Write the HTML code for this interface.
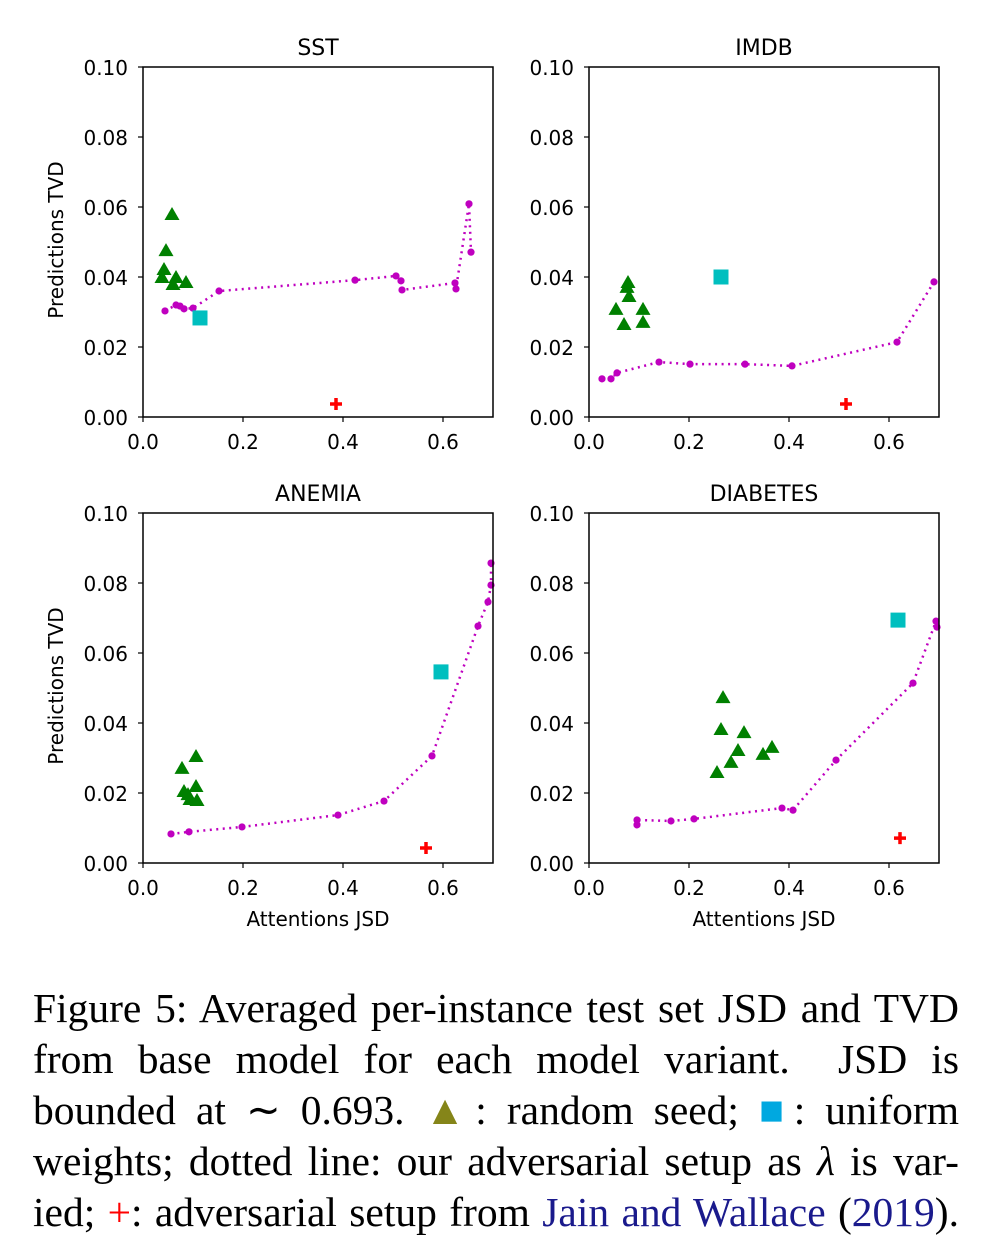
<!DOCTYPE html>
<html><head><meta charset="utf-8"><style>
html,body{margin:0;padding:0;background:#fff;}
body{width:1000px;height:1246px;position:relative;overflow:hidden;}
svg{position:absolute;left:0;top:0;}
.cap{position:absolute;left:33px;width:926px;font-family:"Liberation Serif",serif;font-size:41.5px;line-height:51px;white-space:nowrap;text-align:justify;text-align-last:justify;color:#000;}
.cap span.l{display:block;height:51px;}
</style></head><body>
<svg id="fig" width="1000" height="960"></svg>
<div class="cap" style="top:983px">
<span class="l">Figure 5: Averaged per-instance test set JSD and TVD</span>
<span class="l">from base model for each model variant. &nbsp;JSD is</span>
<span class="l">bounded at ∼ 0.693. <span style="color:#858519">▲</span>: random seed; <span style="color:#00a8e0">■</span>: uniform</span>
<span class="l">weights; dotted line: our adversarial setup as <i>λ</i> is var-</span>
<span class="l">ied; <span style="color:#f00">+</span>: adversarial setup from <span style="color:#1a1a8c">Jain and Wallace</span> (<span style="color:#1a1a8c">2019</span>).</span>
</div>
<script>
const titles=["SST","IMDB","ANEMIA","DIABETES"];
const lineX=[
[0.044,0.066,0.074,0.082,0.100,0.152,0.424,0.506,0.516,0.518,0.624,0.626,0.652,0.656],
[0.026,0.044,0.056,0.14,0.202,0.312,0.406,0.616,0.69],
[0.056,0.092,0.198,0.39,0.482,0.578,0.67,0.69,0.696,0.696],
[0.096,0.096,0.164,0.21,0.386,0.408,0.494,0.648,0.694,0.696]];
const lineY=[
[0.0303,0.032,0.0317,0.0309,0.0311,0.036,0.0391,0.0403,0.0389,0.0363,0.0383,0.0366,0.0609,0.0471],
[0.0109,0.0109,0.0126,0.0157,0.0151,0.0151,0.0146,0.0214,0.0386],
[0.0083,0.0089,0.0103,0.0137,0.0177,0.0306,0.0677,0.0746,0.0794,0.0857],
[0.0109,0.0123,0.012,0.0126,0.0157,0.0151,0.0294,0.0514,0.0691,0.0674]];
const triX=[
[0.058,0.046,0.042,0.038,0.066,0.086,0.06],
[0.078,0.076,0.08,0.054,0.108,0.07,0.108],
[0.106,0.078,0.082,0.106,0.094,0.108,0.09],
[0.268,0.264,0.31,0.298,0.284,0.256,0.348,0.366]];
const triY=[
[0.0577,0.0474,0.042,0.0397,0.0397,0.0383,0.0377],
[0.0383,0.0369,0.0343,0.0306,0.0306,0.0263,0.0269],
[0.0303,0.0269,0.0203,0.0217,0.018,0.0177,0.0194],
[0.0471,0.038,0.0371,0.032,0.0286,0.0257,0.0309,0.0329]];
const sqX=[0.114,0.264,0.596,0.618];
const sqY=[0.0283,0.04,0.0546,0.0694];
const plusX=[0.386,0.514,0.566,0.622];
const plusY=[0.0037,0.0037,0.0043,0.0071];
const yTicks=["0.00","0.02","0.04","0.06","0.08","0.10"];
const xTicks=["0.0","0.2","0.4","0.6"];
const NS="http://www.w3.org/2000/svg";
const svg=document.getElementById('fig');
function mk(tag,attrs,parent){const e=document.createElementNS(NS,tag);for(const k in attrs)e.setAttribute(k,attrs[k]);(parent||svg).appendChild(e);return e;}
const origins=[[143,67],[589,67],[143,513],[589,513]];
const W=350,H=350;
const FF='DejaVu Sans,sans-serif';
for(let p=0;p<4;p++){
  const [ox,oy]=origins[p];
  const g=mk('g',{});
  
  
  const sx=v=>ox+v*500;
  const sy=v=>oy+H-v*3500;
  const t=mk('text',{x:ox+W/2,y:oy-12,'text-anchor':'middle','font-family':FF,'font-size':'22'},g);
  t.textContent=titles[p];
  
  
  yTicks.forEach(s=>{const v=parseFloat(s);const y=sy(v);
    mk('line',{x1:ox-5,x2:ox,y1:y,y2:y,stroke:'#000','stroke-width':1.2},g);
    const tl=mk('text',{x:ox-15,y:y+8,'text-anchor':'end','font-family':FF,'font-size':'20'},g);
    tl.textContent=s;
    
    });
  xTicks.forEach(s=>{const v=parseFloat(s);const x=sx(v);
    mk('line',{x1:x,x2:x,y1:oy+H,y2:oy+H+5,stroke:'#000','stroke-width':1.2},g);
    const tl=mk('text',{x:x,y:oy+H+32,'text-anchor':'middle','font-family':FF,'font-size':'20'},g);
    tl.textContent=s;
    
    });
  const pts=lineX[p].map((x,i)=>sx(x)+','+sy(lineY[p][i])).join(' ');
  const pl=mk('polyline',{points:pts,fill:'none',stroke:'#bf00bf','stroke-width':2.5,'stroke-dasharray':'2 4.5'},g);
  
  
  lineX[p].forEach((x,i)=>{const c=mk('circle',{cx:sx(x),cy:sy(lineY[p][i]),r:3.6,fill:'#bf00bf'},g);
    
    });
  triX[p].forEach((x,i)=>{const cx=sx(x),cy=sy(triY[p][i]);
    const tr=mk('polygon',{points:`${cx},${cy-8} ${cx-7.5},${cy+5} ${cx+7.5},${cy+5}`,fill:'#008000'},g);
    
    });
  {const cx=sx(sqX[p]),cy=sy(sqY[p]);
   const r=mk('rect',{x:cx-7.5,y:cy-7.5,width:15,height:15,fill:'#00bfbf'},g);
   
   }
  {const cx=sx(plusX[p]),cy=sy(plusY[p]);
   const pp=mk('path',{d:`M${cx-6},${cy}H${cx+6}M${cx},${cy-6}V${cy+6}`,stroke:'#ff0000','stroke-width':3.5},g);
   
   }
  const fr=mk('rect',{x:ox,y:oy,width:W,height:H,fill:'none',stroke:'#000','stroke-width':1.5},g);
  
  
  if(p%2===0){const yl=mk('text',{x:0,y:0,transform:`translate(63,${oy+H/2-2}) rotate(-90)`,'text-anchor':'middle','font-family':FF,'font-size':'20'},g);
    yl.textContent='Predictions TVD';
    
    }
  if(p>=2){const xl=mk('text',{x:ox+W/2,y:oy+H+63,'text-anchor':'middle','font-family':FF,'font-size':'20'},g);
    xl.textContent='Attentions JSD';
    
    }
}
</script>
</body></html>
